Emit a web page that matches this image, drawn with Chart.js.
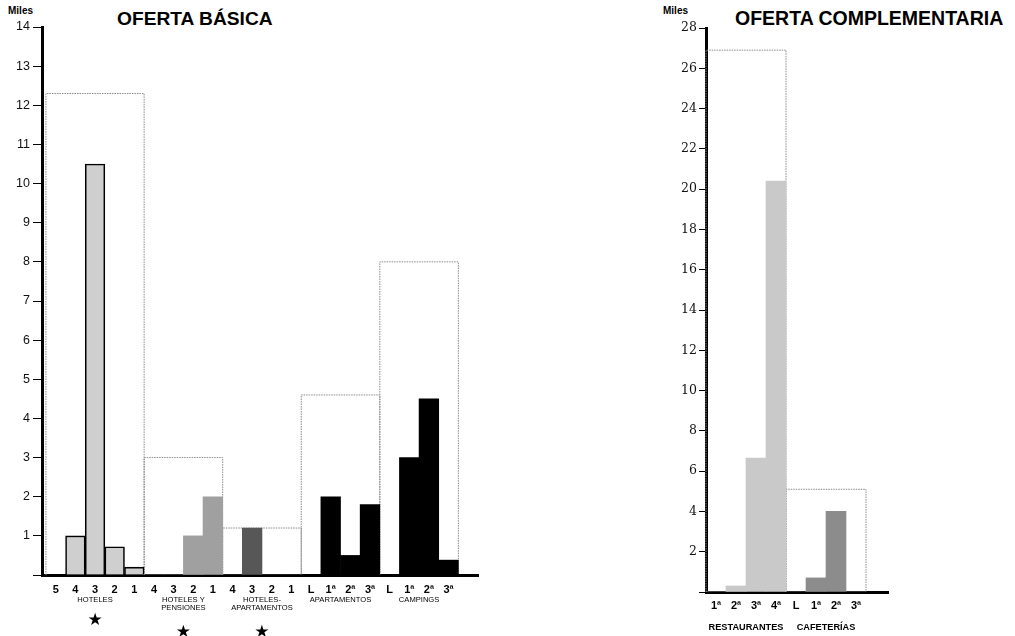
<!DOCTYPE html>
<html><head><meta charset="utf-8">
<script src="https://cdn.jsdelivr.net/npm/chart.js@4"></script>
<style>
html,body{margin:0;padding:0;background:#fff;}
body{width:1015px;height:636px;position:relative;overflow:hidden;font-family:'Liberation Sans',Arial,sans-serif;}
.t{position:absolute;font-weight:bold;color:#000;white-space:nowrap;line-height:1;}
#c1{position:absolute;left:0;top:0;}
#c2{position:absolute;left:640px;top:0;}
</style></head><body>
<div class="t" style="left:8px;top:6px;font-size:10px;">Miles</div>
<div class="t" style="left:117px;top:9px;font-size:19.2px;">OFERTA BÁSICA</div>
<div class="t" style="left:663px;top:6px;font-size:10px;">Miles</div>
<div class="t" style="left:735px;top:9px;font-size:19.5px;">OFERTA COMPLEMENTARIA</div>
<canvas id="c1" width="500" height="636"></canvas>
<canvas id="c2" width="375" height="636"></canvas>
<script>
// ---------- DATA: Oferta básica ----------
const basicCategories = ['5','4','3','2','1','4','3','2','1','4','3','2','1','L','1ª','2ª','3ª','L','1ª','2ª','3ª'];
const basicValues     = [0, 1.0, 10.5, 0.72, 0.2,  0, 0, 1.0, 2.0,  0, 1.2, 0, 0,  0, 2.0, 0.5, 1.8,  0, 3.0, 4.5, 0.38];
const basicGroupSizes = [5, 4, 4, 4, 4];
const basicGroupTotals = [12.3, 3.0, 1.2, 4.6, 8.0];
const basicGroupLabels = [['HOTELES'], ['HOTELES Y','PENSIONES'], ['HOTELES-','APARTAMENTOS'], ['APARTAMENTOS'], ['CAMPINGS']];
const basicGroupStars = [1, 2, 2, 0, 0];   // star row under each group (0 = none)
const basicYTicks = [0, 14, 1];            // min, max, step

// ---------- DATA: Oferta complementaria ----------
const compCategories = ['1ª','2ª','3ª','4ª','L','1ª','2ª','3ª'];
const compValues     = [0, 0.3, 6.65, 20.4,  0, 0.7, 4.0, 0];
const compGroupSizes = [4, 4];
const compGroupTotals = [26.9, 5.1];
const compGroupLabels = [['RESTAURANTES'], ['CAFETERÍAS']];
const compYTicks = [0, 28, 2];

// ---------- styles ----------
const basicGroupFill   = ['#cfcfcf', '#a0a0a0', '#575757', '#000000', '#000000'];
const basicGroupBorder = ['#000000', '#a0a0a0', '#575757', '#000000', '#000000'];
const basicGroupBW     = [1.6, 0, 0, 0, 0];
const compGroupFill    = ['#c9c9c9', '#8c8c8c'];

function perBar(sizes, arr) {
  const out = [];
  sizes.forEach((n, g) => { for (let i = 0; i < n; i++) out.push(arr[g]); });
  return out;
}
function boxDatasets(sizes, totals) {
  let start = 0;
  return sizes.map((n, i) => {
    const l = start - 0.5, r = start + n - 0.5; start += n;
    return { type: 'line', data: [{x:l,y:0},{x:l,y:totals[i]},{x:r,y:totals[i]},{x:r,y:0}],
      borderColor: '#8a8a8a', borderWidth: 1, borderDash: [1.5, 1], pointRadius: 0,
      fill: false, tension: 0, order: 2, clip: 4 };
  });
}

const groupLabelPlugin = {
  id: 'groupLabels',
  afterDraw(chart, args, o) {
    const ctx = chart.ctx, x = chart.scales.x;
    ctx.save();
    ctx.fillStyle = '#000';
    ctx.textAlign = 'center';
    ctx.textBaseline = 'middle';
    let start = 0;
    o.sizes.forEach((n, gi) => {
      const cx = x.getPixelForValue(start + (n - 1) / 2);
      ctx.font = o.font;
      o.labels[gi].forEach((line, li) => ctx.fillText(line, cx, o.y + li * o.lineHeight));
      if (o.stars && o.stars[gi]) {
        ctx.font = 'bold 17px "DejaVu Sans"';
        ctx.fillText('★', cx, o.starY[o.stars[gi] - 1]);
      }
      start += n;
    });
    ctx.restore();
  }
};

function makeChart(id, cfg) {
  const bars = {
    type: 'bar',
    data: cfg.values.map((v, i) => ({x: i, y: v})),
    backgroundColor: cfg.fill, borderColor: cfg.border, borderWidth: cfg.bw,
    borderSkipped: 'bottom', barPercentage: 1, categoryPercentage: 1, order: 1
  };
  return new Chart(document.getElementById(id), {
    type: 'bar',
    data: { datasets: [bars, ...boxDatasets(cfg.sizes, cfg.totals)] },
    plugins: [groupLabelPlugin],
    options: {
      responsive: false, animation: false, devicePixelRatio: 1,
      layout: { padding: cfg.padding },
      plugins: {
        legend: { display: false }, tooltip: { enabled: false },
        groupLabels: cfg.groupOpts
      },
      scales: {
        x: {
          type: 'linear', min: cfg.xMin, max: cfg.xMax, offset: false,
          grid: { display: false, drawTicks: false },
          border: { display: true, color: '#000', width: 3 },
          ticks: { stepSize: 1, includeBounds: false, autoSkip: false, maxRotation: 0, minRotation: 0,
            padding: cfg.xPad, color: '#000',
            font: { family: 'Liberation Sans', weight: 'bold', size: 11 },
            callback: v => (Number.isInteger(v) && v >= 0 && v < cfg.cats.length) ? cfg.cats[v] : '' },
          afterFit(s) { s.height = cfg.xHeight; }
        },
        y: {
          min: cfg.yTicks[0], max: cfg.yTicks[1],
          grid: { drawOnChartArea: false, drawTicks: true, tickLength: cfg.tickLen, color: '#000', lineWidth: 1 },
          border: { display: true, color: '#000', width: 3 },
          ticks: { stepSize: cfg.yTicks[2], padding: cfg.yPad, color: '#111', font: cfg.yFont,
            callback: v => v === 0 ? '' : v },
          afterFit(s) { s.width = cfg.yWidth; }
        }
      }
    }
  });
}

makeChart('c1', {
  values: basicValues, cats: basicCategories, sizes: basicGroupSizes, totals: basicGroupTotals,
  fill: perBar(basicGroupSizes, basicGroupFill), border: perBar(basicGroupSizes, basicGroupBorder),
  bw: perBar(basicGroupSizes, basicGroupBW),
  padding: { top: 27, right: 22, left: 0, bottom: 0 },
  xMin: -0.7, xMax: 21.5, xHeight: 61, xPad: 8, yWidth: 42, tickLen: 9, yPad: 3,
  yTicks: basicYTicks, yFont: { family: 'Liberation Sans', size: 12.5 },
  groupOpts: { sizes: basicGroupSizes, labels: basicGroupLabels, font: '7.6px "Liberation Sans"',
    y: 600, lineHeight: 8, stars: basicGroupStars, starY: [621, 633] }
});

makeChart('c2', {
  values: compValues, cats: compCategories, sizes: compGroupSizes, totals: compGroupTotals,
  fill: perBar(compGroupSizes, compGroupFill), border: perBar(compGroupSizes, compGroupFill),
  bw: 0,
  padding: { top: 28, right: 127, left: 0, bottom: 0 },
  xMin: -0.5, xMax: 8.6, xHeight: 44, xPad: 7, yWidth: 66, tickLen: 7, yPad: 2,
  yTicks: compYTicks, yFont: { family: 'DejaVu Serif', size: 12.5 },
  groupOpts: { sizes: compGroupSizes, labels: compGroupLabels, font: 'bold 9.2px "Liberation Sans"',
    y: 627, lineHeight: 10 }
});
</script>
</body></html>
